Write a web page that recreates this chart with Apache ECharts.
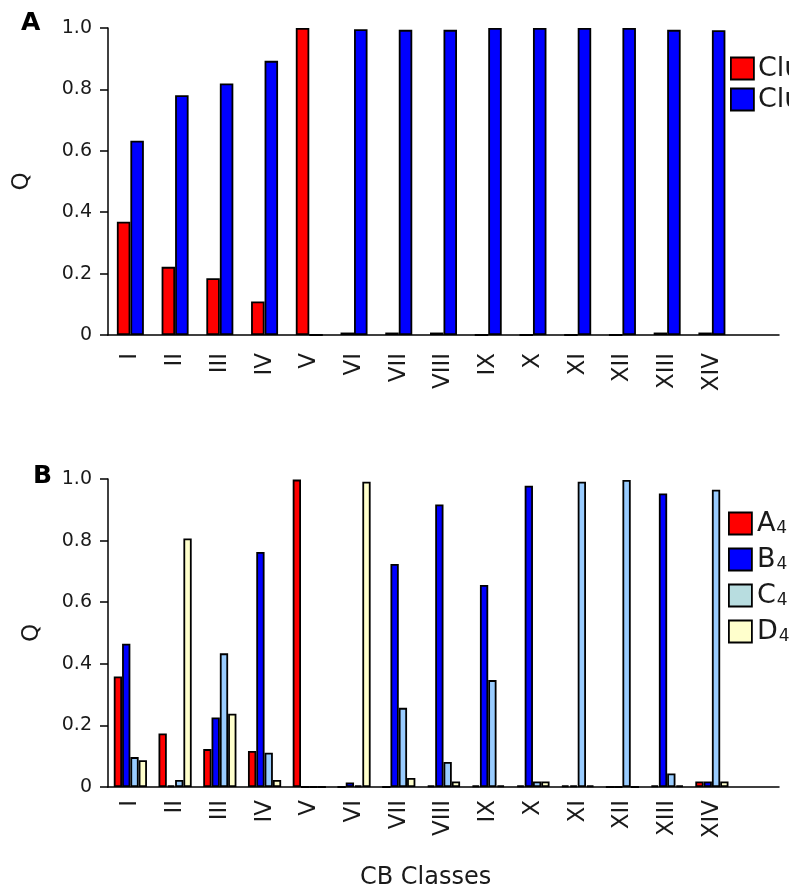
<!DOCTYPE html>
<html>
<head>
<meta charset="utf-8">
<script src="https://cdn.jsdelivr.net/npm/echarts@6/dist/echarts.min.js"></script>
<style>
html,body{margin:0;padding:0;background:#fff;}
#c{width:789px;height:891px;}
</style>
</head>
<body>
<div id="c"></div>
<script>
// ---- data ----
var categories = ['I','II','III','IV','V','VI','VII','VIII','IX','X','XI','XII','XIII','XIV'];
var yTicks = [0, 0.2, 0.4, 0.6, 0.8, 1.0];

var clusterNames = ['Cluster 1', 'Cluster 2'];
var cluster1 = [0.369, 0.222, 0.185, 0.109, 1.0, 0.008, 0.008, 0.008, 0, 0, 0, 0, 0.008, 0.008];
var cluster2 = [0.633, 0.781, 0.819, 0.893, 0, 0.996, 0.994, 0.994, 1.0, 1.0, 1.0, 1.0, 0.994, 0.993];

var groupNames = ['A4', 'B4', 'C4', 'D4'];
var groupA4 = [0.359, 0.174, 0.123, 0.117, 0.998, 0, 0, 0.005, 0.005, 0.005, 0.005, 0, 0.005, 0.018];
var groupB4 = [0.465, 0.005, 0.226, 0.763, 0, 0.015, 0.724, 0.917, 0.656, 0.978, 0.005, 0, 0.953, 0.018];
var groupC4 = [0.097, 0.023, 0.434, 0.111, 0, 0.005, 0.257, 0.081, 0.347, 0.018, 0.991, 0.997, 0.044, 0.965];
var groupD4 = [0.087, 0.807, 0.238, 0.023, 0, 0.991, 0.029, 0.018, 0.005, 0.018, 0.005, 0, 0.005, 0.018];

// ---- styling ----
var FONT = 'DejaVu Sans';
var INK = '#1a1a1a';
var RED = '#ff0000', BLUE = '#0000ff', LIGHT = '#99ccff', YELLOW = '#ffffcc', LEGC = '#b8dde0';
var axisCats = categories.concat(['']); // trailing empty slot: axis line runs past last class

function yAxisCfg(gridIndex, gap) {
  return {
    type: 'value', gridIndex: gridIndex, min: 0, max: 1, interval: 0.2,
    name: 'Q', nameLocation: 'middle', nameRotate: 90, nameGap: gap,
    nameTextStyle: {fontFamily: FONT, fontSize: 23, color: INK},
    axisLine: {show: true, lineStyle: {color: '#000', width: 1.5}},
    axisTick: {show: true, inside: false, length: 8, lineStyle: {color: '#000', width: 1.5}},
    splitLine: {show: false},
    axisLabel: {
      fontFamily: FONT, fontSize: 19, color: INK, margin: 16,
      formatter: function (v) { return v === 0 ? '0' : v.toFixed(1); }
    }
  };
}
function xAxisCfg(gridIndex, margin) {
  return {
    type: 'category', gridIndex: gridIndex, data: axisCats,
    axisLine: {show: true, lineStyle: {color: '#000', width: 1.5}},
    axisTick: {show: false},
    axisLabel: {interval: 0, rotate: 90, fontFamily: FONT, fontSize: 23, color: INK, margin: margin}
  };
}
var border = {borderColor: '#000', borderWidth: 1.8};
function barSeries(name, data, color, xi, width) {
  return {
    type: 'bar', name: name, data: data, xAxisIndex: xi, yAxisIndex: xi,
    barWidth: width, barGap: '0%',
    itemStyle: Object.assign({color: color}, border),
    emphasis: {disabled: true}, animation: false
  };
}

var chart = echarts.init(document.getElementById('c'), null, {renderer: 'canvas'});
chart.setOption({
  animation: false,
  backgroundColor: '#fff',
  title: [
    {text: 'A', left: 21, top: 11, padding: 0, textStyle: {fontFamily: FONT, fontWeight: 'bold', fontSize: 25, color: '#000'}},
    {text: 'B', left: 33, top: 464, padding: 0, textStyle: {fontFamily: FONT, fontWeight: 'bold', fontSize: 25, color: '#000'}},
    {text: 'CB Classes', left: 360, top: 866, padding: 0, textStyle: {fontFamily: FONT, fontWeight: 'normal', fontSize: 24, color: INK}}
  ],
  grid: [
    {left: 108, top: 28, width: 671, height: 307},
    {left: 108, top: 479, width: 671, height: 308}
  ],
  xAxis: [xAxisCfg(0, 18), xAxisCfg(1, 13)],
  yAxis: [yAxisCfg(0, 74), yAxisCfg(1, 64)],
  legend: [
    {
      left: 730, top: 55, padding: 0, orient: 'vertical', itemWidth: 23, itemHeight: 22, itemGap: 4,
      icon: 'rect', selectedMode: false,
      itemStyle: border,
      data: clusterNames,
      textStyle: {fontFamily: FONT, fontSize: 27, lineHeight: 27, color: INK, padding: [0,0,0,-1]}
    },
    {
      left: 728, top: 510, padding: 0, orient: 'vertical', itemWidth: 23, itemHeight: 22, itemGap: 9,
      icon: 'rect', selectedMode: false,
      itemStyle: border,
      data: [
        {name: groupNames[0], itemStyle: {color: RED}},
        {name: groupNames[1], itemStyle: {color: BLUE}},
        {name: groupNames[2], itemStyle: {color: LEGC}},
        {name: groupNames[3], itemStyle: {color: YELLOW}}
      ],
      formatter: function (n) { return '{a|' + n.charAt(0) + '}{s|' + n.slice(1) + '}'; },
      textStyle: {
        fontFamily: FONT, color: INK,
        rich: {
          a: {fontFamily: FONT, fontSize: 27, lineHeight: 27, color: INK, verticalAlign: 'bottom'},
          s: {fontFamily: FONT, fontSize: 17, lineHeight: 17, color: INK, verticalAlign: 'bottom', padding: [0,0,0,1]}
        }
      }
    }
  ],
  series: [
    barSeries(clusterNames[0], cluster1, RED, 0, 13.5),
    barSeries(clusterNames[1], cluster2, BLUE, 0, 13.5),
    barSeries(groupNames[0], groupA4, RED, 1, 8.3),
    barSeries(groupNames[1], groupB4, BLUE, 1, 8.3),
    barSeries(groupNames[2], groupC4, LIGHT, 1, 8.3),
    barSeries(groupNames[3], groupD4, YELLOW, 1, 8.3)
  ]
});
</script>
</body>
</html>
